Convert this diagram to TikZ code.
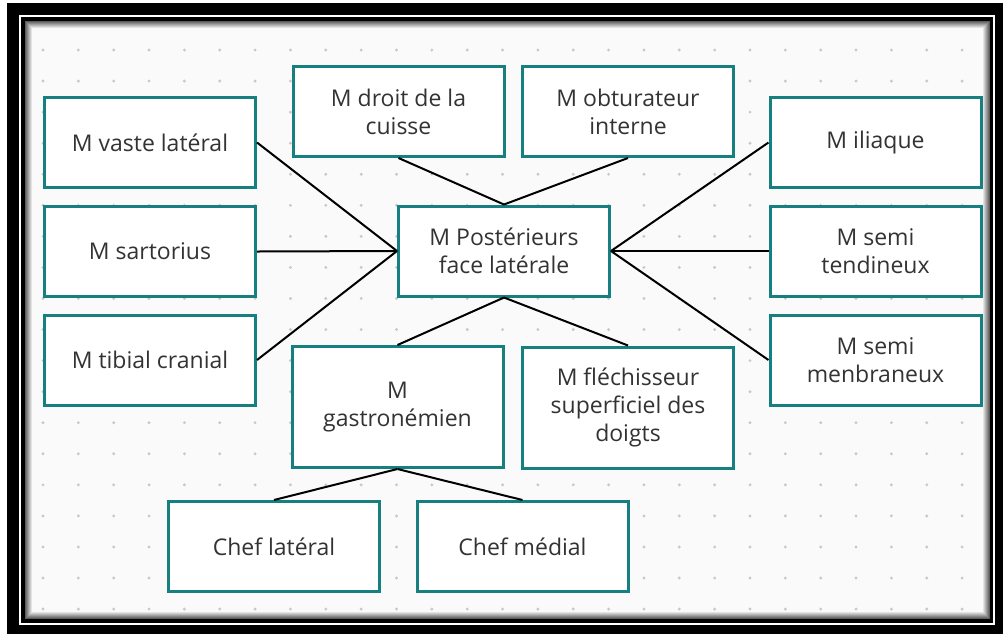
\documentclass[tikz,border=0pt]{standalone}
\usepackage{fontspec}
\setmainfont{Open Sans}
\usetikzlibrary{positioning}
\definecolor{boxteal}{RGB}{22,128,128}
\definecolor{paper}{RGB}{250,250,250}
\definecolor{griddot}{RGB}{200,200,200}
\tikzset{
        muscle/.style={draw=boxteal, line width=1.5pt, fill=white, text=black!80,
                align=center, inner sep=0pt, minimum width=105.5pt, minimum height=45pt,
                font=\fontsize{11.5}{14}\selectfont}, % sets the look of every muscle box
        tallmuscle/.style={muscle, minimum height=60.5pt}, % the two boxes of the middle row
        link/.style={line width=1pt, black}, % the lines between the boxes
}
\def\outerframe{(7,3) rectangle (1003,634)}
\def\innerpaper{(25,21) rectangle (990,619)}

\begin{document}
\begin{tikzpicture}[x=0.5pt, y=-0.5pt]
      \useasboundingbox (0,0) rectangle (1003,634);
      % frame
      \fill[black] \outerframe;
      \fill[white] (19,15) rectangle (995,625);
      \fill[black] (21,17) rectangle (993,623);
      \fill[paper] \innerpaper;
      \foreach \i in {0,...,6} {
         \pgfmathtruncatemacro\shade{63-9*\i}
         \draw[black!\shade!paper, line width=0.5pt] (25.5+\i,21.5+\i) rectangle (989.5-\i,618.5-\i);
      }
      % dotted grid
      \foreach \i in {0,...,26}
         \foreach \j in {0,...,18}
            \fill[griddot] (43+35.35*\i, 50+31.06*\j) circle (0.8pt);

      % boxes
      \node[muscle] (center) at (504,251) {M Postérieurs\\face latérale};
      \node[muscle] (vaste) at (150,142.5) {M vaste latéral};
      \node[muscle] (sartorius) at (150,251.5) {M sartorius};
      \node[muscle] (tibial) at (150,360) {M tibial cranial};
      \node[muscle] (droit) at (398.5,111.5) {M droit de la\\cuisse};
      \node[muscle] (obturateur) at (628,111.5) {M obturateur\\interne};
      \node[muscle] (iliaque) at (875.5,142.5) {M iliaque};
      \node[muscle] (semitend) at (875.5,251) {M semi\\tendineux};
      \node[muscle] (semimemb) at (875.5,360) {M semi\\menbraneux};
      \node[tallmuscle] (gastro) at (397.5,407) {M\\gastronémien};
      \node[tallmuscle] (flechisseur) at (628,407.5) {M fléchisseur\\superficiel des\\doigts};
      \node[muscle] (cheflat) at (274,546.5) {Chef latéral};
      \node[muscle] (chefmed) at (522.5,546.5) {Chef médial};

      % links
      \foreach \m in {vaste, sartorius, tibial}
         \draw[link] (\m.east) -- (center.west);
      \foreach \m in {iliaque, semitend, semimemb}
         \draw[link] (\m.west) -- (center.east);
      \foreach \m in {droit, obturateur}
         \draw[link] (\m.south) -- (center.north);
      \foreach \m in {gastro, flechisseur}
         \draw[link] (center.south) -- (\m.north);
      \foreach \m in {cheflat, chefmed}
         \draw[link] (gastro.south) -- (\m.north);
    \end{tikzpicture}
\end{document}
